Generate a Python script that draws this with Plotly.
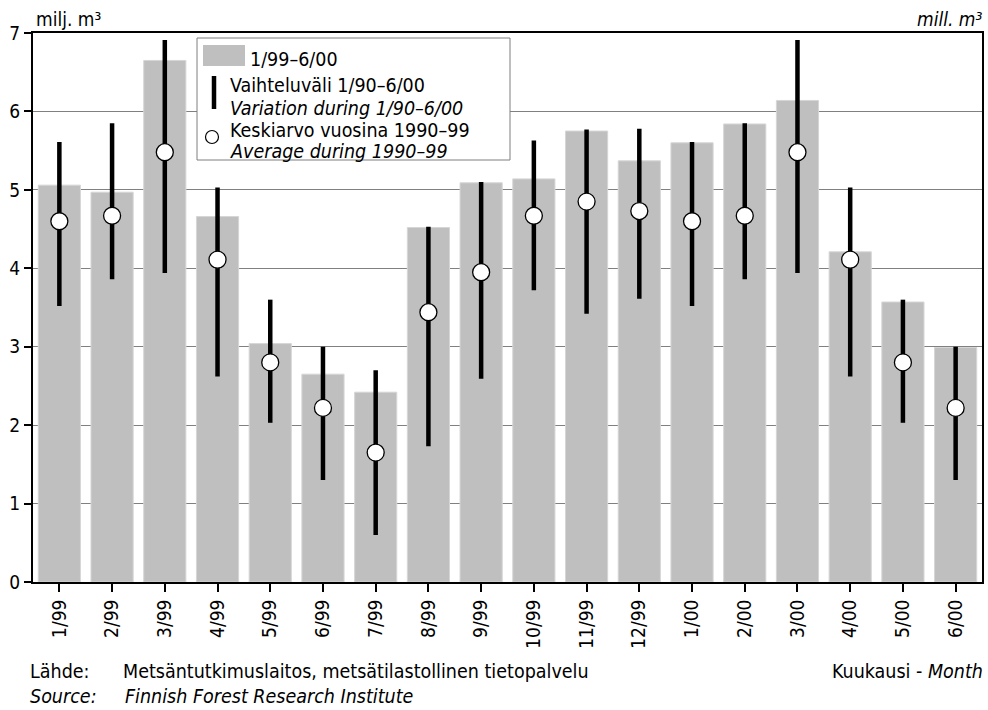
import plotly.graph_objects as go

months = ["1/99", "2/99", "3/99", "4/99", "5/99", "6/99", "7/99", "8/99", "9/99",
          "10/99", "11/99", "12/99", "1/00", "2/00", "3/00", "4/00", "5/00", "6/00"]
volume = [5.06, 4.97, 6.65, 4.66, 3.04, 2.65, 2.42, 4.52, 5.09,
          5.14, 5.75, 5.37, 5.60, 5.84, 6.14, 4.21, 3.57, 2.99]
var_high = [5.61, 5.85, 6.91, 5.03, 3.60, 3.00, 2.70, 4.53, 5.10,
            5.63, 5.77, 5.78, 5.61, 5.85, 6.91, 5.03, 3.60, 3.00]
var_low = [3.52, 3.86, 3.94, 2.62, 2.03, 1.30, 0.60, 1.73, 2.59,
           3.72, 3.42, 3.61, 3.52, 3.86, 3.94, 2.62, 2.03, 1.30]
average = [4.60, 4.67, 5.48, 4.11, 2.80, 2.22, 1.65, 3.44, 3.95,
           4.67, 4.85, 4.73, 4.60, 4.67, 5.48, 4.11, 2.80, 2.22]
y_ticks = [0, 1, 2, 3, 4, 5, 6, 7]

FONT = "Liberation Sans Narrow, DejaVu Sans Condensed, Arial Narrow, sans-serif"
W, H = 988, 710
# plot area in window pixels
PL, PR, PT, PB = 33, 982, 33, 582
PW, PH = PR - PL, PB - PT
L, T, R, B = PL, PT, W - PR, H - PB


def px(x):
    return (x - PL) / PW


def py(y):
    return (PB - y) / PH


fig = go.Figure()
fig.add_trace(go.Bar(
    x=months, y=volume,
    marker=dict(color="#bfbfbf", line=dict(color="#d6d6d6", width=1)),
    showlegend=False, hoverinfo="skip"))
fig.add_trace(go.Scatter(
    x=months, y=average, mode="markers",
    marker=dict(size=1, color="rgba(0,0,0,0)"),
    error_y=dict(type="data", symmetric=False,
                 array=[h - a for h, a in zip(var_high, average)],
                 arrayminus=[a - l for a, l in zip(average, var_low)],
                 color="black", thickness=4.5, width=0),
    showlegend=False, hoverinfo="skip"))
fig.add_trace(go.Scatter(
    x=months, y=average, mode="markers",
    marker=dict(size=17, color="white", line=dict(color="black", width=1.3)),
    showlegend=False, hoverinfo="skip"))

shapes = [
    dict(type="rect", xref="paper", yref="paper", x0=px(197), x1=px(510), y0=py(160), y1=py(38),
         line=dict(color="#7f7f7f", width=1), fillcolor="white", layer="above"),
    dict(type="rect", xref="paper", yref="paper", x0=px(203), x1=px(245), y0=py(66), y1=py(45),
         line=dict(width=0), fillcolor="#bfbfbf", layer="above"),
    dict(type="line", xref="paper", yref="paper", x0=px(214), x1=px(214), y0=py(109), y1=py(76),
         line=dict(color="black", width=4.5), layer="above"),
    dict(type="circle", xref="paper", yref="paper", x0=px(205.5), x1=px(218.5), y0=py(143.5), y1=py(130.5),
         line=dict(color="black", width=1.2), fillcolor="white", layer="above"),
]

LS = 19.5


def ann(text, x, y, xanchor="left", size=LS):
    return dict(text=text, x=px(x), y=py(y), xref="paper", yref="paper",
                xanchor=xanchor, yanchor="middle", showarrow=False,
                font=dict(family=FONT, size=size, color="black"))


annotations = [
    ann("1/99–6/00", 248, 59),
    ann("Vaihteluväli 1/90–6/00", 228, 86),
    ann("<i>Variation during 1/90–6/00</i>", 228, 108),
    ann("Keskiarvo vuosina 1990–99", 228, 130),
    ann("<i>Average during 1990–99</i>", 228, 151),
    ann("milj. m³", 34, 19, size=19),
    ann("<i>mill. m³</i>", 984, 19, xanchor="right", size=19),
    ann("Lähde:", 28, 671, size=19.5),
    ann("Metsäntutkimuslaitos, metsätilastollinen tietopalvelu", 121, 671, size=19.5),
    ann("<i>Source:</i>", 28, 696, size=19.5),
    ann("<i>Finnish Forest Research Institute</i>", 123, 696, size=19.5),
    ann("Kuukausi - <i>Month</i>", 985, 671, xanchor="right", size=19.5),
]

fig.update_layout(
    width=W, height=H,
    margin=dict(l=L, r=R, t=T, b=B, autoexpand=False),
    paper_bgcolor="white", plot_bgcolor="white",
    bargap=0.2,
    font=dict(family=FONT, size=19, color="black"),
    shapes=shapes, annotations=annotations,
    xaxis=dict(type="category", range=[-0.5, 17.5], showgrid=False,
               showline=True, linecolor="black", linewidth=2, mirror=True,
               ticks="outside", ticklen=8, tickwidth=1.5, tickcolor="black",
               tickangle=-90, tickfont=dict(family=FONT, size=19), automargin=False),
    yaxis=dict(range=[0, 7], tickvals=y_ticks, showgrid=True, gridcolor="#808080", gridwidth=1,
               showline=True, linecolor="black", linewidth=2, mirror=True,
               ticks="outside", ticklen=7, tickwidth=1.5, tickcolor="black",
               tickfont=dict(family=FONT, size=19), zeroline=False, automargin=False),
)

# remove the default 8px page margin so the 988x710 figure fills the window exactly
fig.write_html("out.html",
               config={"displayModeBar": False},
               post_script="document.body.style.margin='0';"
                           "document.documentElement.style.overflow='hidden';")
